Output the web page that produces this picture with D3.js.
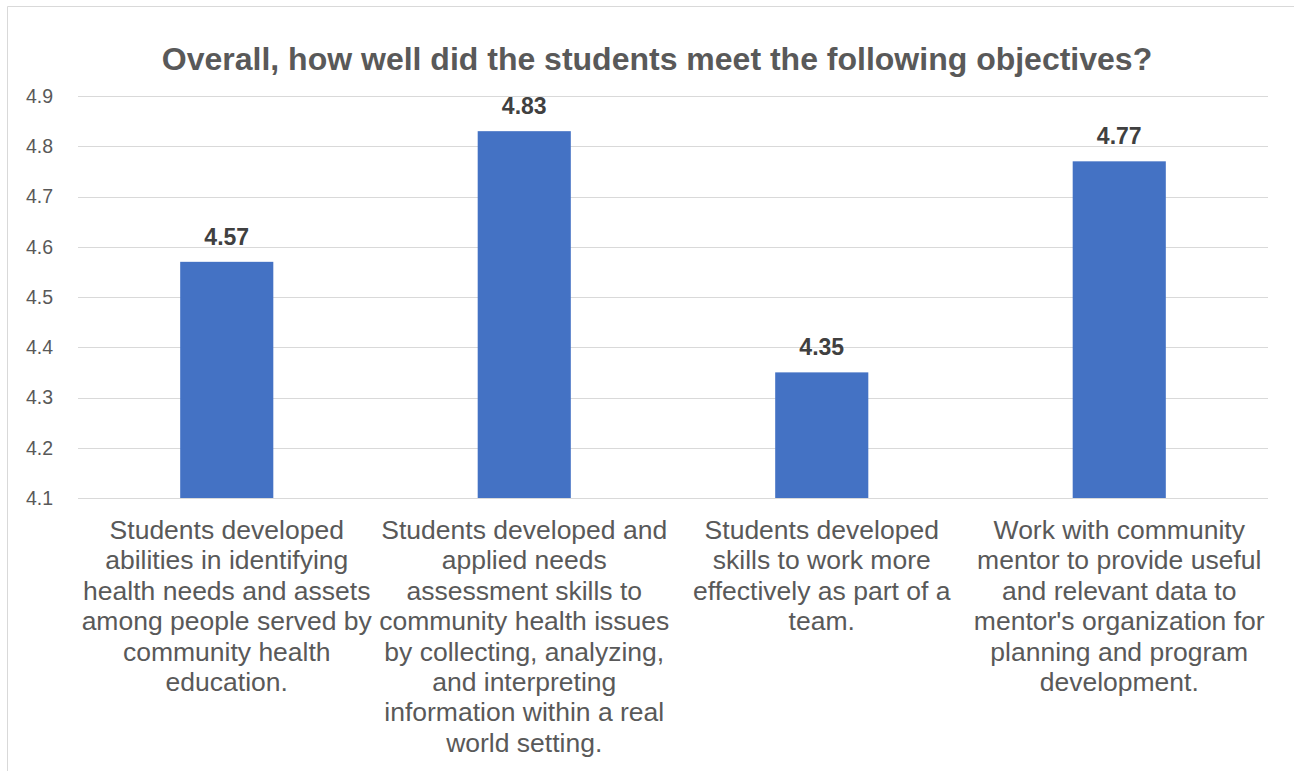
<!DOCTYPE html>
<html>
<head>
<meta charset="utf-8">
<script src="https://cdn.jsdelivr.net/npm/d3@7"></script>
<style>
  body { margin: 0; background: #fff; }
  text { font-family: "Liberation Sans", Arial, sans-serif; }
</style>
</head>
<body>
<div id="chart"></div>
<script>
const categories = [
    "Students developed abilities in identifying health needs and assets among people served by community health education.",
    "Students developed and applied needs assessment skills to community health issues by collecting, analyzing, and interpreting information within a real world setting.",
    "Students developed skills to work more effectively as part of a team.",
    "Work with community mentor to provide useful and relevant data to mentor's organization for planning and program development."
];
const values = [4.57, 4.83, 4.35, 4.77];
const yTicks = [4.1, 4.2, 4.3, 4.4, 4.5, 4.6, 4.7, 4.8, 4.9];
const title = "Overall, how well did the students meet the following objectives?";

const W = 1294, H = 771;
const margin = { top: 96, right: 26, bottom: 273, left: 78 };
const width = W - margin.left - margin.right;
const height = H - margin.top - margin.bottom;

const svg = d3.select("#chart").append("svg")
    .attr("width", W)
    .attr("height", H);

// chart frame (cropped at right and bottom)
svg.append("path")
    .attr("d", `M7.5,${H + 2} V6.5 H${W + 2}`)
    .attr("fill", "none")
    .attr("stroke", "#d9d9d9")
    .attr("stroke-width", 1);

svg.append("text")
    .attr("x", 657)
    .attr("y", 70)
    .attr("text-anchor", "middle")
    .attr("font-size", "32px")
    .attr("font-weight", "bold")
    .attr("fill", "#595959")
    .text(title);

const g = svg.append("g").attr("transform", `translate(${margin.left},${margin.top})`);

const x = d3.scaleBand()
    .domain(d3.range(categories.length))
    .range([0, width])
    .paddingInner(0.687)
    .paddingOuter(0.3435);

const y = d3.scaleLinear()
    .domain([4.1, 4.9])
    .range([height, 0]);

// gridlines
g.selectAll(".grid")
    .data(yTicks)
    .enter().append("line")
    .attr("x1", 0)
    .attr("x2", width)
    .attr("y1", d => Math.round(y(d)) + 0.5)
    .attr("y2", d => Math.round(y(d)) + 0.5)
    .attr("stroke", "#d9d9d9")
    .attr("stroke-width", 1);

// y axis labels
const yAxis = d3.axisLeft(y)
    .tickValues(yTicks)
    .tickFormat(d3.format(".1f"))
    .tickSize(0)
    .tickPadding(25);
g.append("g")
    .call(yAxis)
    .call(a => a.select(".domain").remove())
    .selectAll("text")
    .attr("font-size", "19.5px")
    .attr("fill", "#595959")
    .style("font-family", "'Liberation Sans', Arial, sans-serif");

// bars
g.selectAll(".bar")
    .data(values)
    .enter().append("rect")
    .attr("class", "bar")
    .attr("x", (d, i) => x(i))
    .attr("width", x.bandwidth())
    .attr("y", d => y(d))
    .attr("height", d => height - y(d))
    .attr("fill", "#4472c4");

// value labels
g.selectAll(".val")
    .data(values)
    .enter().append("text")
    .attr("x", (d, i) => x(i) + x.bandwidth() / 2)
    .attr("y", d => y(d) - 17)
    .attr("text-anchor", "middle")
    .attr("font-size", "23px")
    .attr("font-weight", "bold")
    .attr("fill", "#404040")
    .text(d => d.toFixed(2));

// category labels, wrapped to the band step
const step = width / categories.length;
const lineH = 30.4;
categories.forEach((c, i) => {
    const t = g.append("text")
        .attr("text-anchor", "middle")
        .attr("font-size", "26.5px")
        .attr("fill", "#595959");
    const cx = step * i + step / 2;
    const words = c.split(" ");
    let lines = [], line = [];
    const probe = t.append("tspan");
    words.forEach(w => {
        const trial = line.concat([w]).join(" ");
        probe.text(trial);
        if (probe.node().getComputedTextLength() > step && line.length) {
            lines.push(line.join(" "));
            line = [w];
        } else {
            line.push(w);
        }
    });
    lines.push(line.join(" "));
    probe.remove();
    lines.forEach((l, k) => {
        t.append("tspan")
            .attr("x", cx)
            .attr("y", height + 41 + k * lineH)
            .text(l);
    });
});
</script>
</body>
</html>
